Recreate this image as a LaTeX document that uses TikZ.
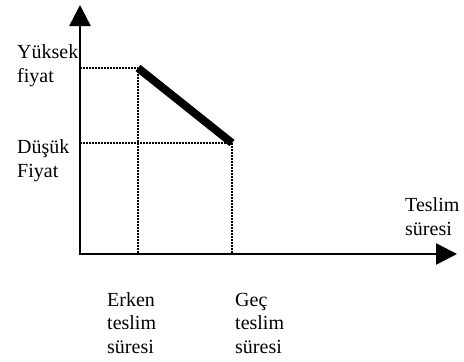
\documentclass[tikz,border=0pt]{standalone}
\usepackage{fontspec}
\setmainfont{Liberation Serif}
\usetikzlibrary{arrows.meta}
\begin{document}
\begin{tikzpicture}[x=1pt,y=-1pt,
  axisline/.style={line width=2.6pt,-{Triangle[length=21pt,width=21pt]}},
  guide/.style={line width=1.8pt,dash pattern=on 1.6pt off 1.4pt},
  curve/.style={line width=8pt},
  lbl/.style={inner sep=0pt,anchor=base west,align=left,font=\fontsize{20}{23.5}\selectfont}]
\useasboundingbox (0,0) rectangle (464,362);
\coordinate (O) at (80,254);
\coordinate (ytip) at (80,5);
\coordinate (xtip) at (457,254);
\coordinate (A) at (138,68);
\coordinate (B) at (232,143);
\coordinate (ya) at (80,68);
\coordinate (yb) at (80,143);
\coordinate (xa) at (138,254);
\coordinate (xb) at (232,254);
\draw[guide] (ya) -- (A);
\draw[guide] (yb) -- (B);
\draw[guide] (A) -- (xa);
\draw[guide] (B) -- (xb);
\draw[axisline] ([yshift=-1.3pt]O) -- (ytip);
\draw[axisline] ([xshift=-1.3pt]O) -- (xtip);
\draw[curve] (A) -- (B);
\node[lbl] (yuksek) at (17,82) {Yüksek\\fiyat};
\node[lbl] (dusuk) at (17,177) {Düşük\\Fiyat};
\node[lbl] (teslim) at (405,235) {Teslim\\süresi};
\node[lbl] (erken) at (107,353) {Erken\\teslim\\süresi};
\node[lbl] (gec) at (235,353) {Geç\\teslim\\süresi};
\end{tikzpicture}
\end{document}
